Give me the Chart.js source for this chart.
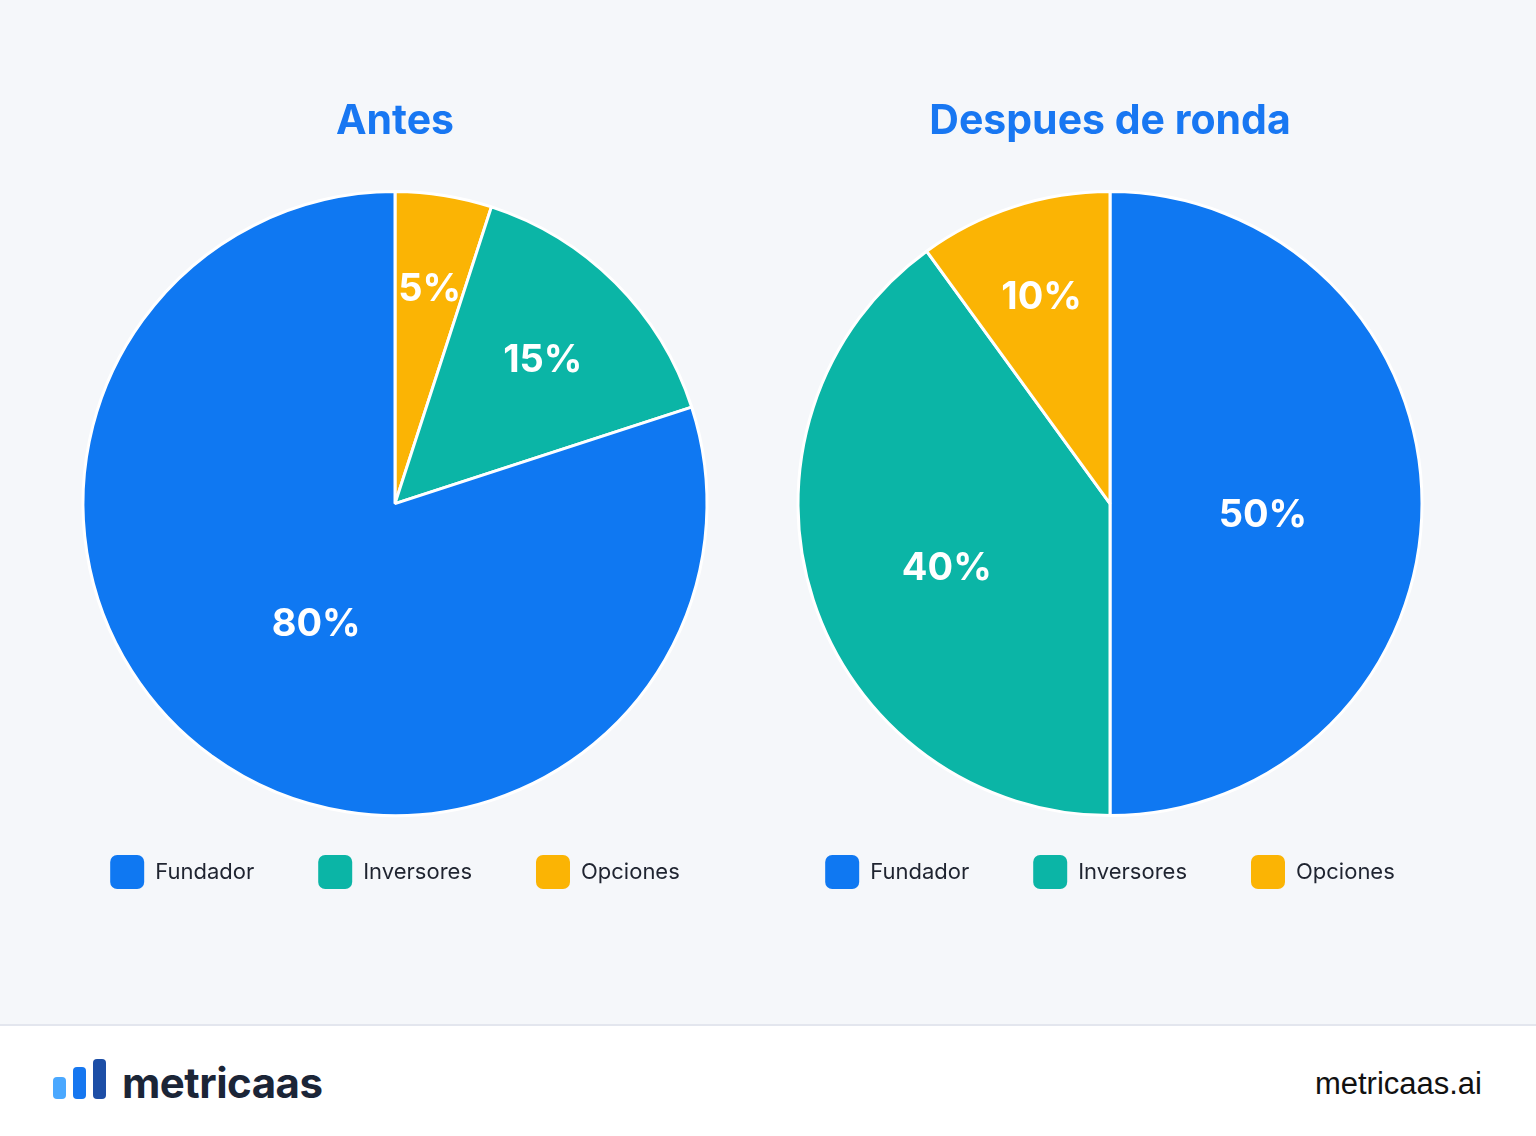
<!DOCTYPE html>
<html>
<head>
<meta charset="utf-8">
<script src="https://cdn.jsdelivr.net/npm/chart.js@4.4.1/dist/chart.umd.min.js"></script>
<style>
  html, body { margin: 0; padding: 0; }
  body { width: 1536px; height: 1136px; background: #fff; font-family: Inter, "Noto Sans", sans-serif; overflow: hidden; }
  #main { position: relative; width: 1536px; height: 1024px; background: #f5f7fa; border-bottom: 2px solid #e3e6ee; }
  .box { position: absolute; top: 0; width: 710px; height: 1024px; }
  #footer { position: relative; height: 110px; }
  .logo { position: absolute; left: 53px; top: 9px; width: 60px; height: 64px; }
  .bar { position: absolute; bottom: 0; width: 13px; border-radius: 4px; }
  .brand { position: absolute; left: 122px; top: 36px; font: 700 42px Inter, sans-serif; color: #1b2537; letter-spacing: -0.5px; line-height: 1; }
  .site { position: absolute; right: 54px; top: 42px; font: 400 31px "Liberation Sans", Arial, sans-serif; color: #111; line-height: 1; }
</style>
</head>
<body>
<div id="main">
  <div class="box" style="left:40px"><canvas id="antes"></canvas></div>
  <div class="box" style="left:755px"><canvas id="despues"></canvas></div>
</div>
<div id="footer">
  <div class="logo">
    <div class="bar" style="left:0;height:22px;background:#4aa8ff"></div>
    <div class="bar" style="left:20px;height:32px;background:#1677f0"></div>
    <div class="bar" style="left:40px;height:40px;background:#1d4ea6"></div>
  </div>
  <div class="brand">metricaas</div>
  <div class="site">metricaas.ai</div>
</div>
<script>
// Datos
const categorias = ["Fundador", "Inversores", "Opciones"];
const antes = [80, 15, 5];
const despues = [50, 40, 10];
const colores = ["#0f78f2", "#0bb5a6", "#fbb404"];
const titulos = ["Antes", "Despues de ronda"];

// Etiquetas de porcentaje dentro de cada porcion
const etiquetasPlugin = {
  id: "etiquetas",
  afterDatasetsDraw(chart) {
    const ctx = chart.ctx;
    const meta = chart.getDatasetMeta(0);
    const valores = chart.data.datasets[0].data;
    ctx.save();
    ctx.fillStyle = "#ffffff";
    ctx.font = "700 38px Inter, sans-serif";
    ctx.textAlign = "center";
    ctx.textBaseline = "middle";
    meta.data.forEach((arc, i) => {
      const v = valores[i];
      const frac = v >= 80 ? 0.43 : v >= 50 ? 0.49 : v >= 40 ? 0.55 : v >= 15 ? 0.67 : 0.71;
      const dy = v >= 40 ? 12 : 5;
      const mid = (arc.startAngle + arc.endAngle) / 2;
      const r = arc.outerRadius * frac;
      ctx.fillText(v + "%", arc.x + Math.cos(mid) * r, arc.y + Math.sin(mid) * r + dy);
    });
    ctx.restore();
  }
};

function crearPie(id, titulo, valores, invertir) {
  // le premier graphique tourne dans l'autre sens : on inverse l'ordre
  const labels = invertir ? categorias.slice().reverse() : categorias;
  const data = invertir ? valores.slice().reverse() : valores;
  const bg = invertir ? colores.slice().reverse() : colores;
  return new Chart(document.getElementById(id), {
    type: "pie",
    data: {
      labels: labels,
      datasets: [{
        data: data,
        backgroundColor: bg,
        borderColor: "#ffffff",
        borderWidth: 3,
        radius: 312
      }]
    },
    options: {
      responsive: true,
      maintainAspectRatio: false,
      animation: false,
      layout: { padding: { top: 0, bottom: 125 } },
      plugins: {
        tooltip: { enabled: false },
        title: {
          display: true,
          text: titulo,
          color: "#1877f2",
          font: { family: "Inter", size: 41, weight: "700" },
          padding: { top: 97, bottom: 70 }
        },
        legend: {
          position: "bottom",
          reverse: invertir,
          labels: {
            boxWidth: 34,
            boxHeight: 34,
            useBorderRadius: true,
            borderRadius: 7,
            padding: 64,
            color: "#1f2430",
            font: { family: "Inter", size: 22 },
            generateLabels(chart) {
              const base = Chart.overrides.pie.plugins.legend.labels.generateLabels(chart);
              return base.map(l => Object.assign(l, { lineWidth: 0, strokeStyle: l.fillStyle }));
            }
          }
        }
      }
    },
    plugins: [etiquetasPlugin]
  });
}

crearPie("antes", titulos[0], antes, true);
crearPie("despues", titulos[1], despues, false);
</script>
</body>
</html>
